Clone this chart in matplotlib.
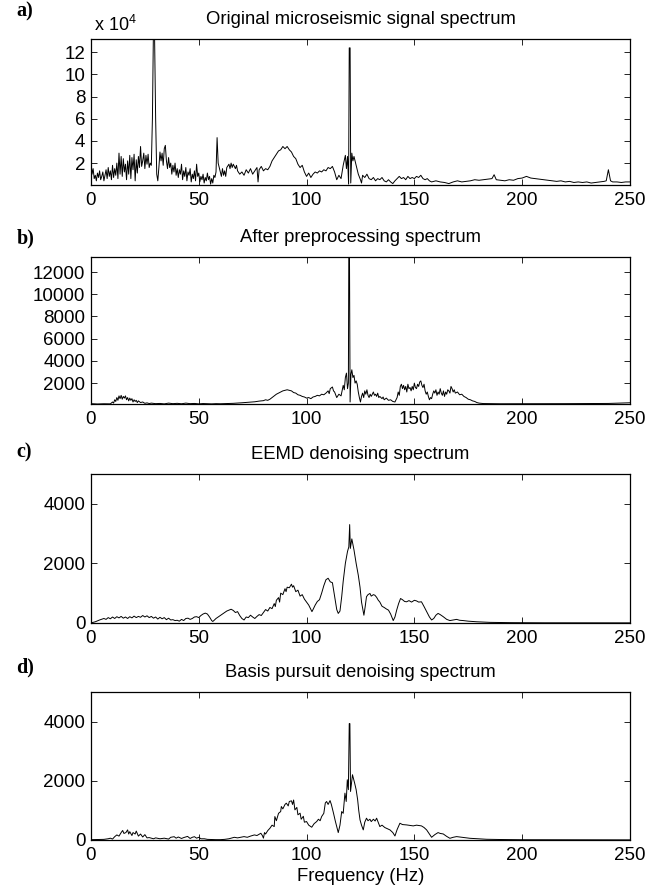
import matplotlib.pyplot as plt

plt.rcParams['font.family'] = ['Liberation Sans', 'DejaVu Sans']
plt.rcParams['mathtext.default'] = 'regular'

# panel a: original spectrum (units of 1e4)
freq_a = [0, 0.5, 1, 1.5, 2, 2.5, 3, 3.5, 4, 4.5, 5, 5.5, 6, 6.5, 7, 7.5, 8, 8.5, 9, 9.5,
          10, 10.5, 11, 11.5, 12, 12.5, 13, 13.5, 14, 14.5, 15, 15.5, 16, 16.5, 17, 17.5, 18, 18.5, 19, 19.5,
          20, 20.5, 21, 21.5, 22, 22.5, 23, 23.5, 24, 24.5, 25, 25.5, 26, 26.5, 27, 27.5, 28, 28.5, 29, 29.5,
          30, 30.5, 31, 31.5, 32, 32.5, 33, 33.5, 34, 34.5, 35, 35.5, 36, 36.5, 37, 37.5, 38, 38.5, 39, 39.5,
          40, 40.5, 41, 41.5, 42, 42.5, 43, 43.5, 44, 44.5, 45, 45.5, 46, 46.5, 47, 47.5, 48, 48.5, 49, 49.5,
          50, 50.5, 51, 51.5, 52, 52.5, 53, 53.5, 54, 54.5, 55, 55.5, 56, 56.5, 57, 57.5, 58, 58.5, 59, 59.5,
          60, 60.5, 61, 61.5, 62, 62.5, 63, 64, 64.5, 65, 65.5, 66, 67, 67.5, 68, 69, 70, 71, 72, 73,
          74, 75, 76, 77, 77.5, 78, 79, 80, 81, 82, 83, 84, 85, 86, 87, 88, 89, 90, 91, 92,
          93, 94, 95, 96, 97, 98, 99, 100, 101, 102, 103, 104, 105, 106, 107, 108, 109, 110, 111, 112,
          113, 114, 115, 116, 117, 118, 118.5, 119, 119.5, 119.8, 120.2, 120.5, 121, 121.5, 122, 123, 124, 125, 125.5, 126,
          127, 128, 129, 130, 131, 132, 133, 134, 135, 136, 137, 138, 139, 140, 141, 142, 143, 144, 145, 146,
          147, 148, 149, 150, 151, 152, 153, 154, 155, 156, 157, 158, 160, 162, 164, 166, 168, 170, 172, 174,
          176, 178, 180, 182, 184, 186, 187, 188, 190, 192, 194, 196, 198, 200, 202, 204, 206, 208, 210, 212,
          214, 216, 218, 220, 222, 224, 226, 228, 230, 232, 234, 236, 238, 239, 240, 241, 242, 244, 246, 248, 250]
amp_a = [2.2, 1.0, 1.5, 0.6, 0.9, 0.4, 1.1, 0.7, 1.3, 0.5, 0.8, 1.2, 0.4, 0.9, 1.4, 0.6, 1.6, 0.8, 1.3, 0.5,
         1.8, 0.7, 1.5, 0.9, 2.0, 0.6, 2.9, 1.0, 2.6, 0.8, 2.4, 1.2, 1.9, 0.5, 2.2, 1.0, 2.7, 0.6, 2.5, 1.4,
         2.8, 0.4, 2.3, 1.1, 2.6, 1.6, 3.5, 1.7, 2.2, 2.9, 1.5, 2.7, 1.9, 2.8, 1.6, 2.0, 1.8, 6.0, 14.5, 13.5,
         6.0, 1.0, 0.4, 1.6, 3.0, 2.2, 2.9, 1.8, 3.3, 3.6, 2.2, 1.5, 2.5, 1.6, 2.0, 1.0, 1.8, 1.2, 2.0, 0.9,
         1.5, 0.7, 1.4, 1.0, 1.9, 0.5, 1.3, 0.8, 1.6, 0.4, 1.2, 0.9, 1.5, 0.3, 1.0, 0.6, 1.3, 0.4, 1.9, 0.8,
         1.1, 0.3, 0.8, 0.5, 1.0, 0.2, 0.7, 0.4, 1.1, 0.5, 0.8, 0.1, 0.6, 0.2, 0.9, 0.7, 1.2, 4.3, 2.0, 1.6,
         1.2, 0.8, 1.5, 0.9, 1.3, 0.8, 1.6, 1.9, 1.5, 2.0, 1.6, 1.9, 1.5, 1.8, 1.3, 1.0, 1.2, 0.9, 1.4, 1.1,
         1.5, 1.0, 1.3, 1.6, 0.3, 1.4, 1.7, 1.3, 1.5, 1.4, 1.7, 2.2, 2.5, 2.8, 3.1, 3.2, 3.5, 3.3, 3.5, 3.2,
         3.0, 2.6, 2.4, 1.9, 1.6, 1.8, 1.2, 0.8, 1.1, 0.7, 1.0, 1.2, 1.1, 1.3, 1.2, 1.4, 1.3, 1.6, 1.5, 1.7,
         1.2, 0.5, 0.9, 0.6, 1.8, 2.7, 1.5, 2.6, 0.1, 12.4, 12.4, 0.2, 2.9, 2.2, 2.6, 1.8, 1.0, 0.5, 0.2, 0.9,
         0.7, 1.0, 0.6, 0.5, 0.7, 0.4, 0.6, 0.5, 0.7, 0.4, 0.3, 0.5, 0.3, 0.15, 0.4, 0.6, 0.8, 0.6, 0.7, 0.5,
         0.8, 0.6, 0.7, 0.6, 0.8, 0.7, 0.9, 0.6, 0.5, 0.6, 0.4, 0.3, 0.4, 0.3, 0.25, 0.15, 0.3, 0.4, 0.3, 0.35,
         0.4, 0.5, 0.45, 0.5, 0.55, 0.6, 0.95, 0.5, 0.45, 0.4, 0.5, 0.45, 0.6, 0.65, 0.8, 0.65, 0.6, 0.55, 0.5, 0.45,
         0.4, 0.35, 0.4, 0.3, 0.35, 0.25, 0.3, 0.25, 0.3, 0.2, 0.25, 0.3, 0.35, 0.4, 1.4, 0.4, 0.3, 0.3, 0.25, 0.3, 0.3]

# panel b: after preprocessing
freq_b = [0, 3, 6, 9, 10, 10.5, 11, 11.5, 12, 12.5, 13, 13.5, 14, 14.5, 15, 15.5, 16, 16.5, 17, 17.5,
          18, 18.5, 19, 19.5, 20, 20.5, 21, 21.5, 22, 23, 24, 25, 26, 27, 28, 30, 32, 34, 36, 38,
          40, 42, 44, 46, 48, 50, 52, 54, 56, 58, 60, 62, 64, 66, 68, 70, 72, 74, 76, 78,
          80, 81, 82, 83, 84, 85, 86, 87, 88, 89, 90, 91, 92, 93, 94, 95, 96, 97, 98, 99,
          100, 101, 102, 103, 104, 105, 106, 107, 108, 109, 110, 110.5, 111, 112, 112.5, 113, 114, 115, 116, 117,
          117.5, 118, 118.5, 119, 119.4, 119.6, 119.9, 120.2, 120.6, 121, 121.5, 122, 122.5, 123, 123.5, 124, 124.5, 125, 125.5, 126,
          126.5, 127, 127.5, 128, 128.5, 129, 129.5, 130, 131, 131.5, 132, 132.5, 133, 133.5, 134, 135, 135.5, 136, 137, 138,
          139, 140, 141, 141.5, 142, 142.5, 143, 143.5, 144, 144.5, 145, 145.5, 146, 146.5, 147, 147.5, 148, 148.5, 149, 149.5,
          150, 150.5, 151, 151.5, 152, 152.5, 153, 153.5, 154, 154.5, 155, 155.5, 156, 156.5, 157, 157.5, 158, 158.5, 159, 159.5,
          160, 160.5, 161, 161.5, 162, 162.5, 163, 163.5, 164, 164.5, 165, 165.5, 166, 166.5, 167, 167.5, 168, 168.5, 169, 170,
          171, 172, 173, 174, 175, 176, 177, 178, 179, 180, 182, 186, 190, 200, 210, 220, 230, 240, 245, 250]
amp_b = [150, 120, 140, 130, 300, 200, 500, 350, 700, 450, 850, 600, 900, 550, 800, 650, 850, 500, 700, 400,
         650, 450, 600, 300, 500, 350, 450, 250, 400, 250, 300, 180, 220, 160, 200, 150, 170, 130, 200, 150,
         180, 140, 200, 150, 170, 130, 160, 140, 130, 150, 140, 150, 170, 180, 200, 230, 260, 290, 320, 380,
         420, 500, 450, 550, 700, 850, 1000, 1100, 1200, 1300, 1350, 1400, 1350, 1300, 1150, 1100, 950, 900, 800, 750,
         650, 700, 600, 750, 800, 900, 850, 1000, 950, 1100, 1300, 1050, 1500, 1650, 1300, 1200, 700, 1000, 850, 1800,
         1400, 2500, 2900, 1500, 2000, 14000, 14000, 300, 2800, 3200, 2500, 2700, 2000, 2200, 1900, 1200, 700, 300, 800, 1100,
         700, 1300, 1000, 1400, 900, 700, 1000, 800, 1200, 900, 1000, 800, 1100, 700, 800, 600, 750, 500, 650, 450,
         500, 350, 300, 500, 700, 1200, 900, 1700, 1900, 1500, 1800, 1400, 1700, 1200, 1900, 1500, 1600, 1300, 1700, 1400,
         2000, 1600, 1500, 1900, 1700, 2100, 2200, 1800, 1600, 1900, 1300, 1000, 1200, 800, 500, 700, 600, 1000, 1300, 1100,
         1400, 900, 1200, 1000, 1500, 1100, 900, 1300, 800, 1200, 1000, 1400, 1300, 1100, 1700, 1500, 1200, 1400, 1100, 1200,
         950, 1000, 800, 700, 550, 500, 400, 350, 250, 200, 160, 150, 140, 140, 145, 150, 155, 170, 200, 230]

# panel c: EEMD denoising
freq_c = [0, 2, 4, 6, 7, 8, 9, 10, 11, 12, 13, 14, 15, 16, 17, 18, 19, 20, 21, 22,
          23, 24, 25, 26, 27, 28, 29, 30, 31, 32, 33, 34, 35, 36, 37, 38, 39, 40, 41, 42,
          43, 44, 45, 46, 47, 48, 49, 50, 51, 52, 53, 54, 55, 56, 56.5, 57, 58, 59, 60, 61,
          62, 63, 64, 65, 66, 67, 68, 69, 70, 71, 72, 73, 74, 75, 76, 77, 78, 79, 80, 81,
          82, 83, 84, 85, 85.5, 86, 87, 87.5, 88, 89, 90, 90.5, 91, 92, 93, 93.5, 94, 95, 96, 97,
          98, 99, 100, 101, 102, 102.5, 103, 104, 105, 106, 107, 108, 109, 110, 111, 112, 113, 114, 114.7, 115.5,
          116.3, 117, 118, 119, 119.6, 120, 120.3, 121, 122, 123, 124, 124.8, 125.5, 126.6, 127.2, 127.8, 128.5, 129.4, 130, 131,
          131.7, 132.5, 133.2, 134, 135, 136, 137, 138, 139, 140.2, 141, 141.8, 142.7, 143.6, 144.5, 145.5, 146.4, 147.5, 148.7, 150,
          151, 152, 153.3, 154.5, 155.7, 157, 158, 159, 160, 161, 162, 163.4, 165, 166.5, 168, 169.6, 171, 172.7, 175, 178.9,
          185, 195, 210, 230, 250]
amp_c = [0, 40, 100, 150, 120, 180, 140, 200, 150, 210, 170, 220, 160, 200, 150, 210, 170, 230, 180, 220,
         190, 250, 200, 240, 180, 220, 160, 200, 130, 190, 140, 180, 110, 160, 100, 110, 80, 90, 60, 120,
         80, 150, 160, 120, 150, 200, 210, 180, 250, 300, 330, 300, 200, 80, 50, 80, 150, 200, 250, 300,
         350, 400, 430, 460, 420, 350, 380, 250, 150, 100, 200, 180, 260, 200, 150, 220, 280, 250, 350, 450,
         400, 520, 480, 650, 550, 760, 850, 700, 1000, 950, 1150, 1050, 1200, 1180, 1300, 1200, 1250, 1050, 1100, 900,
         950, 800, 700, 600, 450, 380, 450, 600, 720, 780, 1000, 1250, 1450, 1500, 1380, 1350, 900, 450, 320, 400,
         880, 1400, 2000, 2400, 2550, 3300, 2500, 2820, 2450, 2000, 1600, 1200, 700, 260, 550, 880, 950, 990, 900, 950,
         930, 860, 770, 700, 560, 520, 470, 430, 300, 80, 200, 430, 650, 820, 780, 720, 710, 750, 700, 760,
         740, 700, 710, 550, 380, 200, 100, 150, 260, 320, 280, 210, 120, 80, 100, 120, 90, 80, 60, 40,
         20, 10, 5, 3, 3]

# panel d: basis pursuit denoising
freq_d = [0, 3, 6, 8, 9, 10, 11, 12, 13, 14, 14.7, 15.3, 16.2, 17, 17.5, 18, 19, 19.5, 20.5, 21,
          22, 23, 24, 25, 26, 27, 28, 29, 30, 32, 34, 36, 37, 38.6, 39.5, 40.5, 42, 43, 44.8, 46,
          47, 48, 49, 50, 51, 52.6, 54, 56, 58, 60, 62, 64, 66.5, 68, 70, 71, 72.5, 74, 75.8, 77,
          78.8, 79.5, 80, 80.5, 81, 82, 83, 84, 85, 85.3, 86, 87, 88, 88.3, 89, 90, 90.6, 91.5, 92, 93,
          93.5, 94, 94.6, 95.5, 96, 97, 97.5, 98.5, 99, 100, 101, 102.4, 103.5, 104.7, 105.5, 106.3, 107, 108, 108.7, 109.3,
          110, 110.9, 111.5, 112.5, 113.3, 114, 114.7, 115.5, 116.3, 117, 117.8, 118.4, 118.9, 119.4, 119.8, 120.1, 120.4, 121.3, 122.3, 123,
          123.7, 124.2, 124.8, 125.5, 126.3, 127, 127.8, 128.5, 129.4, 130, 131, 131.8, 132.5, 133.2, 134, 135, 136.3, 137.5, 138.7, 140,
          141, 142, 143.3, 144.5, 146.4, 148, 149.5, 151, 153.3, 154.5, 155.7, 157, 158, 159.5, 161, 162, 163.4, 165, 166.5, 168,
          169.6, 172, 175.8, 180, 183.5, 190, 200, 220, 250]
amp_d = [10, 15, 20, 40, 60, 30, 110, 170, 130, 250, 320, 220, 250, 340, 200, 280, 150, 250, 200, 300,
         130, 200, 100, 180, 70, 80, 60, 40, 70, 40, 60, 30, 90, 110, 60, 100, 50, 80, 120, 50,
         90, 110, 60, 90, 40, 40, 20, 15, 10, 10, 20, 40, 90, 70, 100, 113, 90, 130, 170, 150,
         226, 150, 60, 250, 200, 316, 395, 500, 452, 791, 650, 900, 960, 1130, 1050, 1200, 1243, 1150, 1300, 1322,
         1200, 1350, 1017, 1100, 850, 904, 700, 800, 600, 622, 500, 430, 550, 622, 700, 650, 791, 900, 1250, 1299,
         1200, 1330, 1200, 904, 650, 452, 249, 500, 960, 900, 1582, 1300, 2034, 1700, 3930, 3930, 1638, 2204, 1921, 1700,
         1356, 1000, 678, 500, 339, 600, 735, 650, 700, 620, 700, 640, 735, 600, 452, 500, 420, 380, 339, 250,
         135, 350, 565, 520, 508, 490, 475, 500, 475, 420, 339, 200, 90, 180, 249, 220, 203, 120, 56, 90,
         113, 90, 56, 40, 23, 15, 8, 5, 3]

titles = ['Original microseismic signal spectrum', 'After preprocessing spectrum',
          'EEMD denoising spectrum', 'Basis pursuit denoising spectrum']
panel_tags = ['a)', 'b)', 'c)', 'd)']

fig = plt.figure(figsize=(6.64, 8.93), dpi=100)
boxes = [[0.137, 0.7928, 0.8117, 0.1635],
         [0.137, 0.5476, 0.8117, 0.1646],
         [0.137, 0.3024, 0.8117, 0.1669],
         [0.137, 0.0594, 0.8117, 0.1657]]
series = [(freq_a, amp_a), (freq_b, amp_b), (freq_c, amp_c), (freq_d, amp_d)]
ylims = [(0.02, 13.2), (120, 13350), (0, 5000), (0, 5000)]
yticks = [[2, 4, 6, 8, 10, 12], [2000, 4000, 6000, 8000, 10000, 12000],
          [0, 2000, 4000], [0, 2000, 4000]]
tag_y = [0.9866, 0.7324, 0.4938, 0.252]

for i in range(4):
    ax = fig.add_axes(boxes[i])
    f, v = series[i]
    ax.plot(f, v, color='black', lw=0.7)
    ax.set_xlim(0, 250)
    ax.set_ylim(*ylims[i])
    ax.set_xticks([0, 50, 100, 150, 200, 250])
    ax.set_yticks(yticks[i])
    ax.tick_params(direction='in', length=4, width=0.6, top=True, right=True,
                   labelsize=13.5, colors='black')
    ax.tick_params(axis='x', pad=5)
    ax.tick_params(axis='y', pad=4)
    for s in ax.spines.values():
        s.set_linewidth(0.9)
    ax.annotate(titles[i], xy=(0.5, 1), xycoords='axes fraction', xytext=(0, 14),
                textcoords='offset points', ha='center', va='center', fontsize=13.3)
    fig.text(0.025, tag_y[i], panel_tags[i], fontsize=14.5, fontweight='bold',
             family='Liberation Serif', va='center', ha='left')
    if i == 0:
        ax.annotate('x 10$^4$', xy=(0, 1), xycoords='axes fraction', xytext=(2, 10),
                    textcoords='offset points', ha='left', va='center', fontsize=13)
    if i == 3:
        ax.set_xlabel('Frequency (Hz)', fontsize=13.3, labelpad=3)

plt.savefig('out.png', dpi=100)
